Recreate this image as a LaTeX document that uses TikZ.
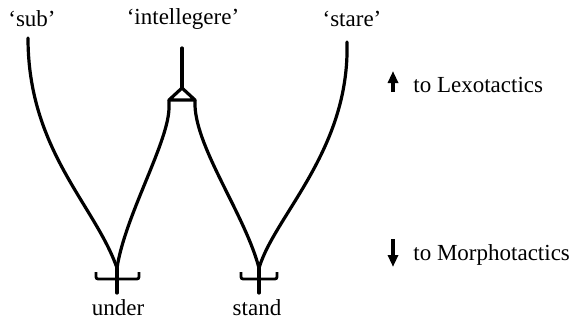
\documentclass[tikz,border=0pt]{standalone}
\usepackage{fontspec}
\setmainfont{Liberation Serif}
\usepackage{tikz}
\usetikzlibrary{
  arrows.meta,
  positioning
}

\begin{document}
\begin{tikzpicture}[
  x=0.5pt, y=-0.5pt,
  lbl/.style={inner sep=1pt, font=\fontsize{11.5}{13}\selectfont},
  wire/.style={line width=1.6pt, line cap=round, line join=round},
  foot/.style={line width=1.4pt, rounded corners=1pt},
  arr/.style={-{Triangle[length=6pt, width=5pt]}, line width=1.8pt},
]
\useasboundingbox (0,0) rectangle (574,321);

% Meanings
\node[lbl] (sub) at (32,19) {`sub'};
\node[lbl] (intel) at (183,19) {`intellegere'};
\node[lbl] (stare) at (352,19) {`stare'};

% Forms
\node[lbl] (under) at (118,308) {under};
\node[lbl] (stand) at (257,308) {stand};

% Points
\coordinate (subtop) at (28,38);
\coordinate (intop) at (182,48);
\coordinate (startop) at (347,42);
\coordinate (apex) at (182,88);
\coordinate (triL) at (169,100);
\coordinate (triR) at (195,100);
\coordinate (ujoin) at (117,268);
\coordinate (ufoot) at (117,293);
\coordinate (sjoin) at (259,268);
\coordinate (sfoot) at (259,293);

% Lines
\draw[wire] (subtop) .. controls (28,150) and (95,205) .. (ujoin);
\draw[wire] (intop) -- (apex);
\draw[wire] (apex) -- (triL) -- (triR) -- cycle;
\draw[wire] (triL) -- ++(0,6) .. controls (170,140) and (125,215) .. (ujoin);
\draw[wire] (triR) -- ++(0,6) .. controls (197,150) and (245,215) .. (sjoin);
\draw[wire] (startop) .. controls (350,150) and (275,215) .. (sjoin);
\draw[wire] (ujoin) -- (ufoot);
\draw[wire] (sjoin) -- (sfoot);

% Brackets
\draw[foot] (96,272) -- (96,279) -- (139,279) -- (139,272);
\draw[foot] (241,272) -- (241,279) -- (277,279) -- (277,272);

% Directions
\node[lbl, anchor=west] (lexo) at (411,85) {to Lexotactics};
\node[lbl, anchor=west] (morpho) at (411,255) {to Morphotactics};
\coordinate (upfrom) at (393,92);
\coordinate (upto) at (393,71);
\coordinate (downfrom) at (393,239);
\coordinate (downto) at (393,267);
\draw[arr] (upfrom) -- (upto);
\draw[arr] (downfrom) -- (downto);

\end{tikzpicture}
\end{document}
